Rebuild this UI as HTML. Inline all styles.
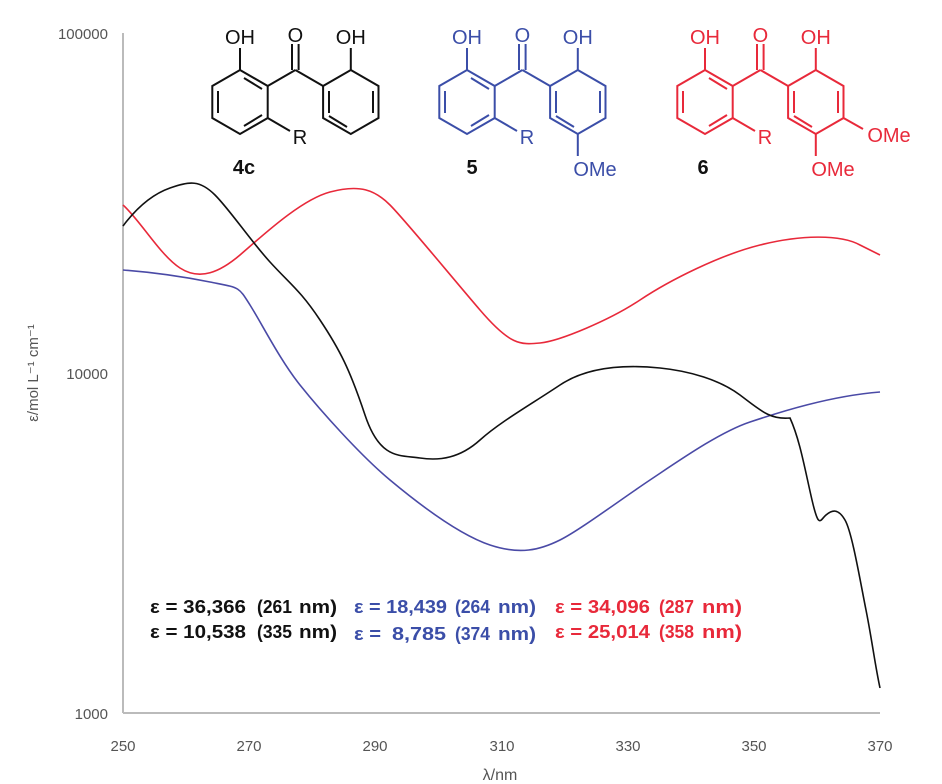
<!DOCTYPE html>
<html><head><meta charset="utf-8"><style>
body{margin:0;background:#fff;width:942px;height:784px;overflow:hidden}
svg{display:block;font-family:"Liberation Sans",sans-serif}
</style></head><body>
<svg width="942" height="784" viewBox="0 0 942 784">
<defs>
<g id="core" fill="none" stroke-width="2">
<polygon points="0,-32 27.7,-16 27.7,16 0,32 -27.7,16 -27.7,-16"/>
<line x1="-22" y1="-11" x2="-22" y2="11"/><line x1="4" y1="-24" x2="22" y2="-13"/><line x1="4" y1="24" x2="22" y2="13"/>
<line x1="27.7" y1="-16" x2="55.4" y2="-32"/><line x1="55.4" y1="-32" x2="83.1" y2="-16"/>
<line x1="52" y1="-32" x2="52" y2="-58"/><line x1="58.6" y1="-32" x2="58.6" y2="-58"/>
<polygon points="110.8,-32 138.5,-16 138.5,16 110.8,32 83.1,16 83.1,-16"/>
<line x1="133" y1="-11" x2="133" y2="11"/><line x1="89" y1="-11" x2="89" y2="11"/><line x1="107" y1="25" x2="89" y2="14"/>
<line x1="0" y1="-32" x2="0" y2="-54"/><line x1="110.8" y1="-32" x2="110.8" y2="-54"/>
<line x1="27.7" y1="16" x2="50" y2="29"/>
</g>
</defs>
<line x1="123" y1="33" x2="123" y2="713" stroke="#bbb" stroke-width="2"/>
<line x1="123" y1="713" x2="880" y2="713" stroke="#bbb" stroke-width="2"/>
<g font-size="15" fill="#555" text-anchor="end">
<text x="108" y="39">100000</text><text x="108" y="379">10000</text><text x="108" y="719">1000</text>
</g>
<g font-size="15" fill="#555" text-anchor="middle">
<text x="123" y="751">250</text><text x="249" y="751">270</text><text x="375" y="751">290</text><text x="502" y="751">310</text><text x="628" y="751">330</text><text x="754" y="751">350</text><text x="880" y="751">370</text>
<text x="500" y="780" font-size="16">λ/nm</text>
</g>
<text transform="translate(38,373) rotate(-90)" font-size="15" fill="#555" text-anchor="middle">ε/mol L⁻¹ cm⁻¹</text>
<path fill="none" stroke="#e8293a" stroke-width="1.6" d="M123,205 C140,220 160,255 180,268 S220,272 240,255 S300,200 330,192 S375,190 390,205 S450,275 480,310 S520,345 540,343 S610,320 640,300 S720,255 760,245 S840,234 860,245 L880,255"/>
<path fill="none" stroke="#4a4aa6" stroke-width="1.6" d="M123,270 C150,272 180,276 210,282 S238,286 250,305 S280,360 300,385 S360,455 390,480 S460,535 490,545 S540,550 560,540 S620,500 650,480 S720,432 750,422 S830,396 880,392"/>
<path fill="none" stroke="#111" stroke-width="1.6" d="M123,226 C135,210 150,195 170,188 S200,180 215,195 S250,240 270,262 S300,290 320,320 S350,370 365,415 S400,455 420,458 S460,458 480,440 S530,405 560,385 S630,365 660,368 S720,380 740,395 S770,420 790,418 C800,440 805,470 812,500 S820,520 826,515 S838,508 845,520 S860,580 866,610 S875,665 880,688"/>
<g transform="translate(240,102)" stroke="#111" fill="#111"><use href="#core"/>
<g stroke="none" font-size="20" text-anchor="middle"><text x="0" y="-58">OH</text><text x="55.4" y="-60">O</text><text x="110.8" y="-58">OH</text><text x="60" y="42">R</text></g></g>
<text x="244" y="174" font-size="20" font-weight="bold" text-anchor="middle" fill="#111">4c</text>
<g transform="translate(467,102)" stroke="#3b4ea8" fill="#3b4ea8"><use href="#core"/>
<line x1="110.8" y1="32" x2="110.8" y2="54" stroke-width="2"/>
<g stroke="none" font-size="20" text-anchor="middle"><text x="0" y="-58">OH</text><text x="55.4" y="-60">O</text><text x="110.8" y="-58">OH</text><text x="60" y="42">R</text><text x="128" y="74">OMe</text></g></g>
<text x="472" y="174" font-size="20" font-weight="bold" text-anchor="middle" fill="#111">5</text>
<g transform="translate(705,102)" stroke="#e8293a" fill="#e8293a"><use href="#core"/>
<line x1="110.8" y1="32" x2="110.8" y2="54" stroke-width="2"/><line x1="138.5" y1="16" x2="158" y2="27" stroke-width="2"/>
<g stroke="none" font-size="20" text-anchor="middle"><text x="0" y="-58">OH</text><text x="55.4" y="-60">O</text><text x="110.8" y="-58">OH</text><text x="60" y="42">R</text><text x="128" y="74">OMe</text><text x="184" y="40">OMe</text></g></g>
<text x="703" y="174" font-size="20" font-weight="bold" text-anchor="middle" fill="#111">6</text>
<g font-size="18" font-weight="bold">
<text y="613" fill="#111"><tspan x="150" textLength="96" lengthAdjust="spacingAndGlyphs">ε = 36,366</tspan><tspan x="257" textLength="35" lengthAdjust="spacingAndGlyphs">(261</tspan><tspan x="299" textLength="38" lengthAdjust="spacingAndGlyphs">nm)</tspan></text>
<text y="638" fill="#111"><tspan x="150" textLength="96" lengthAdjust="spacingAndGlyphs">ε = 10,538</tspan><tspan x="257" textLength="35" lengthAdjust="spacingAndGlyphs">(335</tspan><tspan x="299" textLength="38" lengthAdjust="spacingAndGlyphs">nm)</tspan></text>
<text y="613" fill="#3b4ea8"><tspan x="354" textLength="93" lengthAdjust="spacingAndGlyphs">ε = 18,439</tspan><tspan x="455" textLength="35" lengthAdjust="spacingAndGlyphs">(264</tspan><tspan x="498" textLength="38" lengthAdjust="spacingAndGlyphs">nm)</tspan></text>
<text y="640" fill="#3b4ea8"><tspan x="354" textLength="27" lengthAdjust="spacingAndGlyphs">ε =</tspan><tspan x="392" textLength="54" lengthAdjust="spacingAndGlyphs">8,785</tspan><tspan x="455" textLength="35" lengthAdjust="spacingAndGlyphs">(374</tspan><tspan x="498" textLength="38" lengthAdjust="spacingAndGlyphs">nm)</tspan></text>
<text y="613" fill="#e8293a"><tspan x="555" textLength="95" lengthAdjust="spacingAndGlyphs">ε = 34,096</tspan><tspan x="659" textLength="35" lengthAdjust="spacingAndGlyphs">(287</tspan><tspan x="702" textLength="40" lengthAdjust="spacingAndGlyphs">nm)</tspan></text>
<text y="638" fill="#e8293a"><tspan x="555" textLength="95" lengthAdjust="spacingAndGlyphs">ε = 25,014</tspan><tspan x="659" textLength="35" lengthAdjust="spacingAndGlyphs">(358</tspan><tspan x="702" textLength="40" lengthAdjust="spacingAndGlyphs">nm)</tspan></text>
</g>
</svg>
</body></html>
